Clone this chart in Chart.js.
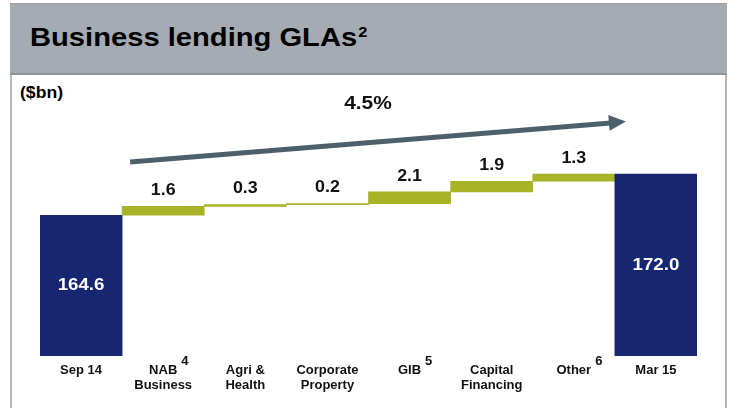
<!DOCTYPE html>
<html>
<head>
<meta charset="utf-8">
<script src="https://cdn.jsdelivr.net/npm/chart.js@4.4.1/dist/chart.umd.min.js"></script>
<style>
    body { margin: 0; width: 731px; height: 408px; background: #fff; position: relative; overflow: hidden; font-family: "Liberation Sans", Arial, sans-serif; }
    .panel { position: absolute; left: 10px; top: 3px; width: 717px; height: 420px; border-left: 2px solid #b4b8bc; border-right: 2px solid #b4b8bc; box-sizing: border-box; }
    .header { position: absolute; left: 10px; top: 3px; width: 717px; height: 72px; background: #a5abb2; border-top: 1px solid #9aa0a6; border-bottom: 2px solid #8f959b; box-sizing: border-box; }
    .header h1 { margin: 0; position: absolute; left: 20px; top: 20px; font-size: 26.5px; line-height: 1; font-weight: bold; color: #000; transform: scaleX(1.1); transform-origin: left center; white-space: nowrap; }
    .header sup { font-size: 15px; vertical-align: 0; position: relative; top: -9px; margin-left: 1px; }
    .unit { position: absolute; left: 20px; top: 85px; font-size: 16px; line-height: 1; font-weight: bold; color: #000; transform: scaleX(1.1); transform-origin: left center; }
    #wrap { position: absolute; left: 0; top: 0; width: 731px; height: 408px; }
</style>
</head>
<body>
<div class="panel"></div>
<div class="header"><h1>Business lending GLAs<sup>2</sup></h1></div>
<div class="unit">($bn)</div>
<div id="wrap"><canvas id="chart"></canvas></div>
<script>
// Waterfall data ($bn)
const categories = [['Sep 14'], ['NAB', 'Business'], ['Agri &', 'Health'], ['Corporate', 'Property'], ['GIB'], ['Capital', 'Financing'], ['Other'], ['Mar 15']];
const footnotes = ['', '4', '', '', '5', '', '6', ''];
const startValue = 164.6;
const changes = [1.6, 0.3, 0.2, 2.1, 1.9, 1.3];
const endValue = 172.0;
const growthLabel = '4.5%';

const BLUE = '#172670';
const GREEN = '#a8b326';
const ARROW = '#4c606b';
const FONT = '"Liberation Sans", Arial, sans-serif';
const Y_MIN = 139.3;
const Y_MAX = 185.3;

// build floating bars
const barData = [[Y_MIN, startValue]];
const valueLabels = [startValue.toFixed(1)];
let running = startValue;
changes.forEach(c => {
    barData.push([running, running + c]);
    valueLabels.push(c.toFixed(1));
    running += c;
});
barData.push([Y_MIN, endValue]);
valueLabels.push(endValue.toFixed(1));
const barColors = barData.map((d, i) => (i === 0 || i === barData.length - 1) ? BLUE : GREEN);

// slightly stretched text, like the original slide
function wideText(ctx, text, x, y, sx) {
    ctx.save();
    ctx.translate(x, y);
    ctx.scale(sx, 1);
    ctx.fillText(text, 0, 0);
    ctx.restore();
}

const labelPlugin = {
    id: 'waterfallLabels',
    afterDatasetsDraw(chart) {
        const ctx = chart.ctx;
        const meta = chart.getDatasetMeta(0);
        const x = chart.scales.x;
        const area = chart.chartArea;
        ctx.save();
        ctx.textAlign = 'center';
        ctx.textBaseline = 'middle';
        ctx.font = 'bold 17px ' + FONT;
        meta.data.forEach((bar, i) => {
            const last = i === meta.data.length - 1;
            if (i === 0 || last) {
                ctx.fillStyle = '#fff';
                wideText(ctx, valueLabels[i], bar.x, (bar.y + bar.base) / 2, 1.1);
            } else {
                ctx.fillStyle = '#111';
                wideText(ctx, valueLabels[i], bar.x, bar.y - 16, 1.05);
            }
        });

        // growth arrow
        const x0 = x.getPixelForValue(1) - x.width / 16 + 8;
        const x1 = x.getPixelForValue(7) - x.width / 16 + 11;
        const y0 = 162, y1 = 121.5;
        const ang = Math.atan2(y1 - y0, x1 - x0);
        const headLen = 17;
        const bx = x1 - headLen * Math.cos(ang), by = y1 - headLen * Math.sin(ang);
        ctx.strokeStyle = ARROW;
        ctx.lineWidth = 5;
        ctx.beginPath();
        ctx.moveTo(x0, y0);
        ctx.lineTo(bx + 2, by);
        ctx.stroke();
        ctx.fillStyle = ARROW;
        ctx.beginPath();
        ctx.moveTo(x1, y1);
        ctx.lineTo(bx - 8 * Math.sin(ang), by + 8 * Math.cos(ang));
        ctx.lineTo(bx + 8 * Math.sin(ang), by - 8 * Math.cos(ang));
        ctx.closePath();
        ctx.fill();

        ctx.fillStyle = '#111';
        ctx.font = 'bold 19px ' + FONT;
        wideText(ctx, growthLabel, (x0 + x1) / 2 - 10, 104, 1.1);

        // footnote superscripts on x labels
        footnotes.forEach((n, i) => {
            if (!n) return;
            ctx.font = 'bold 13px ' + FONT;
            const w = ctx.measureText(categories[i][0]).width;
            const cx = x.getPixelForValue(i);
            ctx.textAlign = 'left';
            ctx.fillText(n, cx + w / 2 + 4, area.bottom + 5);
        });
        ctx.restore();
    }
};

new Chart(document.getElementById('chart'), {
    type: 'bar',
    data: {
        labels: categories,
        datasets: [{
            data: barData,
            backgroundColor: barColors,
            borderWidth: 0,
            barPercentage: 1,
            categoryPercentage: 1
        }]
    },
    options: {
        responsive: true,
        maintainAspectRatio: false,
        animation: false,
        layout: { padding: { left: 40, right: 34, top: 100, bottom: 8 } },
        plugins: { legend: { display: false }, tooltip: { enabled: false } },
        scales: {
            x: {
                grid: { display: false, drawTicks: false },
                border: { display: false },
                ticks: {
                    color: '#111',
                    padding: 7,
                    maxRotation: 0,
                    autoSkip: false,
                    font: { family: FONT, size: 13, weight: 'bold', lineHeight: 1.15 }
                }
            },
            y: {
                display: false,
                min: Y_MIN,
                max: Y_MAX
            }
        }
    },
    plugins: [labelPlugin]
});
</script>
</body>
</html>
